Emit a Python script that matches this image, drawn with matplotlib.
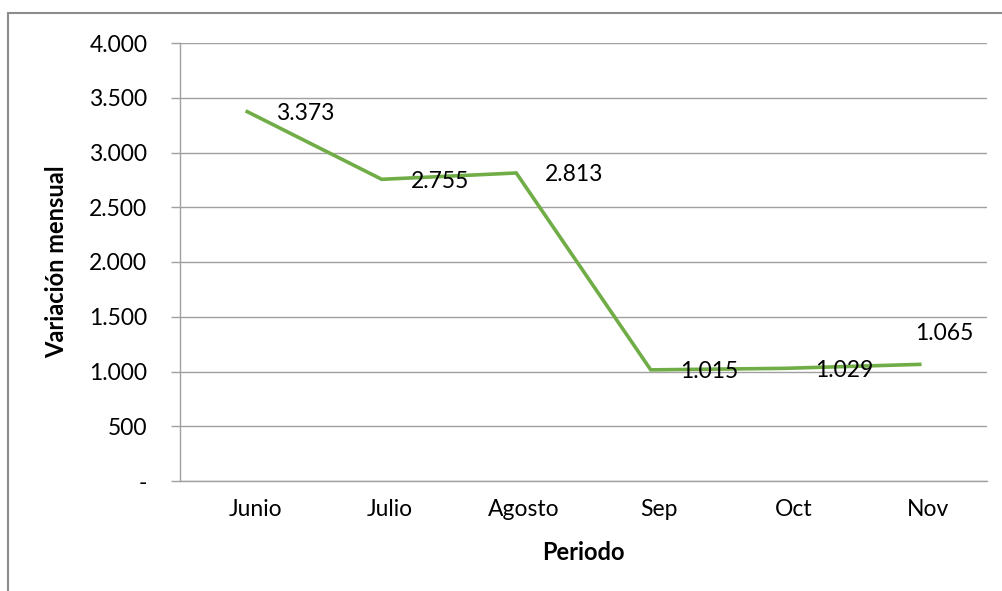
import matplotlib
matplotlib.use("Agg")
import matplotlib.pyplot as plt
from matplotlib.ticker import FuncFormatter, MultipleLocator
from matplotlib.patches import Rectangle
import matplotlib.transforms as mtransforms

categories = ["Junio", "Julio", "Agosto", "Sep", "Oct", "Nov"]
values = [3373, 2755, 2813, 1015, 1029, 1065]
value_labels = ["3.373", "2.755", "2.813", "1.015", "1.029", "1.065"]
label_offsets = [(29, -2), (29, -2), (29, -2), (29, -2), (30, -2), (-5, 31)]

plt.rcParams['font.family'] = ['Lato', 'DejaVu Sans']

W, H = 1003, 591
fig = plt.figure(figsize=(W / 100, H / 100), dpi=100)
fig.patch.set_facecolor("white")

# outer chart border (extends beyond right/bottom edges)
fig.patches.append(Rectangle((8 / W, -0.2), 1.2, (591 - 13) / H + 0.2,
                             transform=fig.transFigure, fill=False,
                             edgecolor="#8c8c8c", linewidth=1.5))

ax = fig.add_axes([180 / W, (H - 481) / H, 807 / W, 438 / H])
x = list(range(len(categories)))
ax.plot(x, values, color="#70AD47", linewidth=2.6, solid_joinstyle="miter")

FS = 16.5
for xi, v, lab, off in zip(x, values, value_labels, label_offsets):
    ax.annotate(lab, (xi, v), xytext=off, textcoords="offset pixels",
                ha="left", va="center", fontsize=FS, color="black")

ax.set_xlim(-0.5, len(categories) - 0.5)
ax.set_ylim(0, 4000)
ax.yaxis.set_major_locator(MultipleLocator(500))

def fmt(v, pos):
    if v == 0:
        return "-"
    return f"{int(v):,}".replace(",", ".")

ax.yaxis.set_major_formatter(FuncFormatter(fmt))
ax.set_xticks(x)
ax.set_xticklabels(categories)

ax.grid(axis="y", color="#a0a0a0", linewidth=1.0)
ax.set_axisbelow(True)
for s in ["top", "right"]:
    ax.spines[s].set_visible(False)
ax.spines["left"].set_color("#a0a0a0")
ax.spines["bottom"].set_color("#a0a0a0")
ax.spines["left"].set_linewidth(1.0)
ax.spines["bottom"].set_linewidth(1.0)

ax.tick_params(axis="y", length=6.5, width=1.0, color="#a0a0a0", pad=17,
               labelsize=FS)
ax.tick_params(axis="x", length=0, pad=13, labelsize=FS)

offset = mtransforms.ScaledTranslation(8 / 100, 0, fig.dpi_scale_trans)
for lbl in ax.get_xticklabels():
    lbl.set_transform(lbl.get_transform() + offset)

ax.set_ylabel("Variación mensual", fontsize=17, fontweight="bold")
ax.yaxis.set_label_coords((68 - 180) / 807, 0.5)
ax.set_xlabel("Periodo", fontsize=17, fontweight="bold")
ax.xaxis.set_label_coords(0.5, (481 - 541) / 438)

fig.savefig("out.png", dpi=100)
